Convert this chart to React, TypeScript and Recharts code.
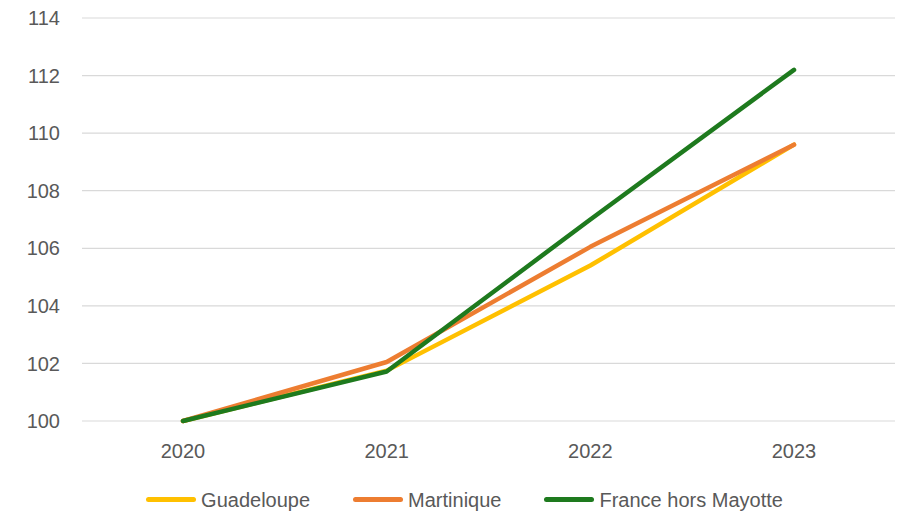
import React from "react";
import { LineChart, Line, XAxis, YAxis, CartesianGrid, Legend } from "recharts";

const years = ["2020", "2021", "2022", "2023"];
const guadeloupe = [100, 101.75, 105.4, 109.6];
const martinique = [100, 102.05, 106.05, 109.6];
const franceHorsMayotte = [100, 101.72, 107.0, 112.2];
const yTicks = [100, 102, 104, 106, 108, 110, 112, 114];

const seriesKeys = ["g", "m", "f"];
const seriesNames = ["Guadeloupe", "Martinique", "France hors Mayotte"];
const seriesColors = ["#FFC000", "#ED7D31", "#1E7A1E"];

const data = years.map((y, i) => ({
  year: y,
  g: guadeloupe[i],
  m: martinique[i],
  f: franceHorsMayotte[i],
}));

const FONT = "'Liberation Sans', Arial, sans-serif";
const TEXT = "#595959";
const FS = 20;

const LegendContent = () => (
  <div
    style={{
      height: 40,
      paddingTop: 17,
      boxSizing: "border-box",
      display: "flex",
      justifyContent: "center",
      fontFamily: FONT,
      fontSize: FS,
      color: TEXT,
      lineHeight: "24px",
      paddingLeft: 34,
    }}
  >
    {seriesNames.map((name, i) => (
      <div key={i} style={{ display: "flex", alignItems: "center", marginLeft: i === 0 ? 0 : 43 }}>
        <div style={{ width: 50, height: 5, borderRadius: 3, background: seriesColors[i], marginRight: 5 }} />
        <span>{name}</span>
      </div>
    ))}
  </div>
);

export default function App() {
  return (
    <div style={{ position: "absolute", left: 0, top: 0, width: 905, height: 511, background: "#fff" }}>
      <LineChart width={905} height={511} data={data} margin={{ top: 18, right: 10, bottom: 0, left: 0 }}>
        <CartesianGrid vertical={false} stroke="#D9D9D9" strokeWidth={1.2} />
        <XAxis
          dataKey="year"
          axisLine={false}
          tickLine={false}
          tickSize={0}
          tickMargin={23}
          height={50}
          padding={{ left: 101, right: 101 }}
          tick={{ fill: TEXT, fontSize: FS, fontFamily: FONT }}
          interval={0}
        />
        <YAxis
          domain={[100, 114]}
          ticks={yTicks}
          axisLine={false}
          tickLine={false}
          tickSize={0}
          tickMargin={22}
          width={82}
          tick={{ fill: TEXT, fontSize: FS, fontFamily: FONT }}
          interval={0}
        />
        <Legend verticalAlign="bottom" height={40} content={<LegendContent />} />
        {seriesKeys.map((k, i) => (
          <Line
            key={k}
            dataKey={k}
            name={seriesNames[i]}
            stroke={seriesColors[i]}
            strokeWidth={4.5}
            strokeLinecap="round"
            strokeLinejoin="round"
            dot={false}
            activeDot={false}
            isAnimationActive={false}
          />
        ))}
      </LineChart>
    </div>
  );
}
